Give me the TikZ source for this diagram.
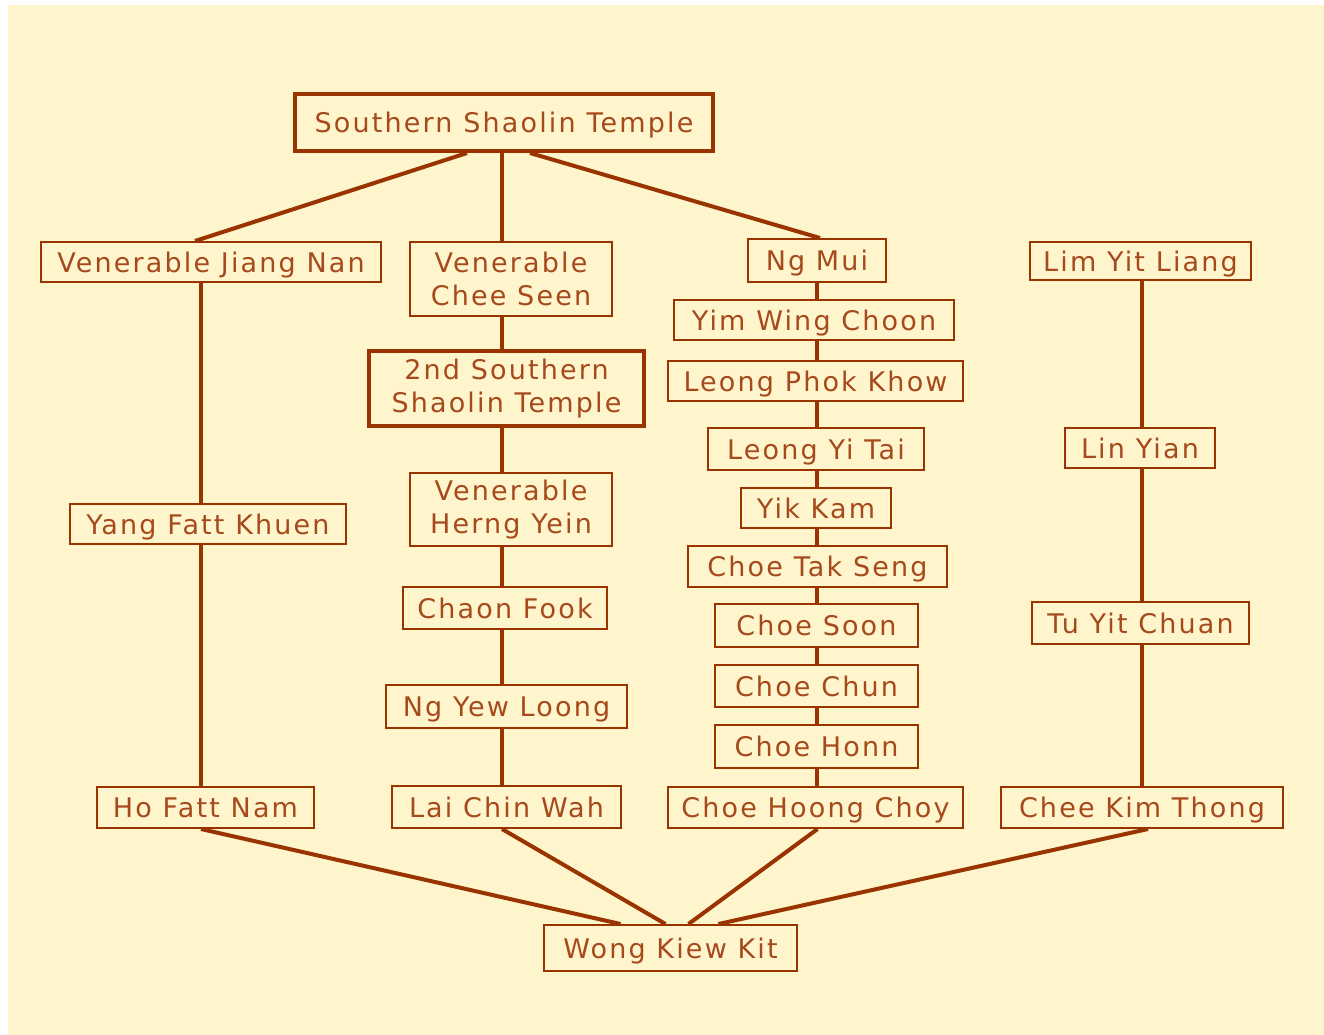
\documentclass[tikz,border=0pt]{standalone}
\usepackage{fontspec}
\setmainfont{DejaVu Sans}[LetterSpace=8]
\usetikzlibrary{calc}
\definecolor{cream}{HTML}{FFF5CD}
\definecolor{brn}{HTML}{993300}
\definecolor{txt}{HTML}{A64A1D}
\tikzset{
  box/.style={draw=brn, line width=2pt, fill=cream, text=txt, inner sep=0pt,
    font=\fontsize{27}{33}\selectfont},
  bigbox/.style={box, line width=4pt},
  one/.style={text height=21pt, text depth=1pt},
  two/.style={align=center},
  conn/.style={draw=brn, line width=4pt}
}
\begin{document}
\begin{tikzpicture}[x=1pt,y=-1pt]
\useasboundingbox (0,0) rectangle (1324,1035);
\fill[cream] (8,5) rectangle (1324,1035);

% column guides
\coordinate (cA) at (201,0);
\coordinate (cB) at (502,0);
\coordinate (cC) at (817,0);
\coordinate (cD) at (1142,0);

% top
\node[bigbox, one, minimum width=418, minimum height=57] (sst) at (504,122.5) {Southern Shaolin Temple};

% column A
\node[box, one, minimum width=340, minimum height=40] (jiang) at (211,262) {Venerable Jiang Nan};
\node[box, one, minimum width=276, minimum height=40] (yang) at (208,524) {Yang Fatt Khuen};
\node[box, one, minimum width=217, minimum height=41] (hofatt) at (205.5,807.5) {Ho Fatt Nam};

% column B
\node[box, two, minimum width=202, minimum height=74] (chee) at (511,279) {Venerable\\Chee Seen};
\node[bigbox, two, minimum width=275, minimum height=75] (sst2) at (506.5,388.5) {2nd Southern\\Shaolin Temple};
\node[box, two, minimum width=202, minimum height=73] (herng) at (511,509.5) {Venerable\\Herng Yein};
\node[box, one, minimum width=204, minimum height=42] (chaon) at (505,608) {Chaon Fook};
\node[box, one, minimum width=241, minimum height=43] (ngyew) at (506.5,706.5) {Ng Yew Loong};
\node[box, one, minimum width=229, minimum height=42] (lai) at (506.5,807) {Lai Chin Wah};

% column C
\node[box, one, minimum width=138, minimum height=43] (ngmui) at (817,260.5) {Ng Mui};
\node[box, one, minimum width=280, minimum height=40] (yim) at (814,320) {Yim Wing Choon};
\node[box, one, minimum width=295, minimum height=40] (leongpk) at (815.5,381) {Leong Phok Khow};
\node[box, one, minimum width=216, minimum height=42] (leongyt) at (816,449) {Leong Yi Tai};
\node[box, one, minimum width=150, minimum height=40] (yik) at (816,508) {Yik Kam};
\node[box, one, minimum width=259, minimum height=41] (choetak) at (817.5,566.5) {Choe Tak Seng};
\node[box, one, minimum width=203, minimum height=43] (choesoon) at (816.5,625.5) {Choe Soon};
\node[box, one, minimum width=203, minimum height=42] (choechun) at (816.5,686) {Choe Chun};
\node[box, one, minimum width=203, minimum height=43] (choehonn) at (816.5,746.5) {Choe Honn};
\node[box, one, minimum width=295, minimum height=41] (choehoong) at (815.5,807.5) {Choe Hoong Choy};

% column D
\node[box, one, minimum width=221, minimum height=38] (limyit) at (1140.5,261) {Lim Yit Liang};
\node[box, one, minimum width=150, minimum height=40] (linyian) at (1140,448) {Lin Yian};
\node[box, one, minimum width=217, minimum height=42] (tuyit) at (1140.5,623) {Tu Yit Chuan};
\node[box, one, minimum width=282, minimum height=41] (cheekim) at (1142,807.5) {Chee Kim Thong};

% bottom
\node[box, one, minimum width=253, minimum height=46] (wong) at (670.5,948) {Wong Kiew Kit};

% top connectors
\draw[conn] ($(sst.south)+(-37,0)$) -- ($(jiang.north)+(-16,0)$);
\draw[conn] (sst.south -| cB) -- (chee.north -| cB);
\draw[conn] ($(sst.south)+(26,0)$) -- ($(ngmui.north)+(3,0)$);

% column A
\draw[conn] (jiang.south -| cA) -- (yang.north -| cA);
\draw[conn] (yang.south -| cA) -- (hofatt.north -| cA);

% column B
\draw[conn] (chee.south -| cB) -- (sst2.north -| cB);
\draw[conn] (sst2.south -| cB) -- (herng.north -| cB);
\draw[conn] (herng.south -| cB) -- (chaon.north -| cB);
\draw[conn] (chaon.south -| cB) -- (ngyew.north -| cB);
\draw[conn] (ngyew.south -| cB) -- (lai.north -| cB);

% column C
\draw[conn] (ngmui.south -| cC) -- (yim.north -| cC);
\draw[conn] (yim.south -| cC) -- (leongpk.north -| cC);
\draw[conn] (leongpk.south -| cC) -- (leongyt.north -| cC);
\draw[conn] (leongyt.south -| cC) -- (yik.north -| cC);
\draw[conn] (yik.south -| cC) -- (choetak.north -| cC);
\draw[conn] (choetak.south -| cC) -- (choesoon.north -| cC);
\draw[conn] (choesoon.south -| cC) -- (choechun.north -| cC);
\draw[conn] (choechun.south -| cC) -- (choehonn.north -| cC);
\draw[conn] (choehonn.south -| cC) -- (choehoong.north -| cC);

% column D
\draw[conn] (limyit.south -| cD) -- (linyian.north -| cD);
\draw[conn] (linyian.south -| cD) -- (tuyit.north -| cD);
\draw[conn] (tuyit.south -| cD) -- (cheekim.north -| cD);

% bottom connectors
\draw[conn] (hofatt.south -| cA) -- ($(wong.north)+(-50,0)$);
\draw[conn] (lai.south -| cB) -- ($(wong.north)+(-5,0)$);
\draw[conn] ($(choehoong.south)+(2,0)$) -- ($(wong.north)+(18,0)$);
\draw[conn] ($(cheekim.south)+(6,0)$) -- ($(wong.north)+(48,0)$);
\end{tikzpicture}
\end{document}
